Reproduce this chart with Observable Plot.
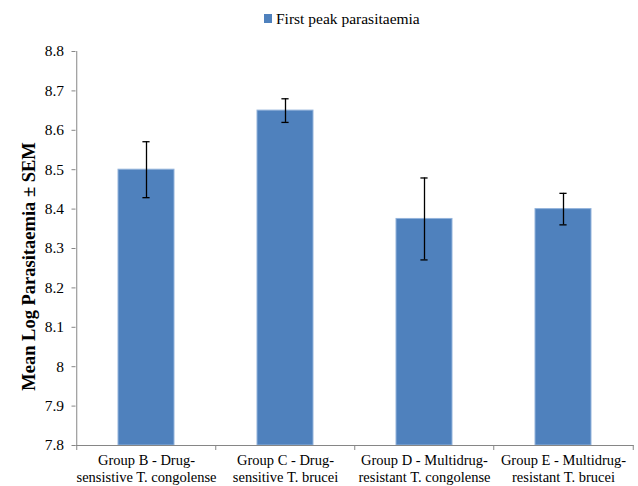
<!DOCTYPE html>
<html>
<head>
<meta charset="utf-8">
<script src="https://cdn.jsdelivr.net/npm/d3@7"></script>
<script src="https://cdn.jsdelivr.net/npm/@observablehq/plot@0.6"></script>
<style>
  html, body { margin: 0; padding: 0; background: #fff; }
  body { width: 638px; height: 486px; overflow: hidden; font-family: "Liberation Serif", "Times New Roman", serif; }
  #legend { height: 37px; display: flex; align-items: center; padding-left: 264px; font-size: 15.5px; color: #000; box-sizing: border-box; }
  #legend .sw { width: 8px; height: 9px; background: #4F81BD; margin-right: 4px; }
  svg { display: block; }
</style>
</head>
<body>
<div id="legend"><span class="sw"></span><span>First peak parasitaemia</span></div>
<div id="chart"></div>
<script>
const categories = [
  "Group B - Drug-\nsensistive T. congolense",
  "Group C - Drug-\nsensitive T. brucei",
  "Group D - Multidrug-\nresistant T. congolense",
  "Group E - Multidrug-\nresistant T. brucei"
];
const means = [8.50, 8.65, 8.375, 8.40];
const sems = [0.071, 0.030, 0.104, 0.040];
const seriesName = "First peak parasitaemia";
const yTicks = [7.8, 7.9, 8.0, 8.1, 8.2, 8.3, 8.4, 8.5, 8.6, 8.7, 8.8];
const yLabel = "Mean Log Parasitaemia ± SEM";

const data = categories.map((c, i) => ({group: c, value: means[i], sem: sems[i]}));
const yMin = yTicks[0], yMax = yTicks[yTicks.length - 1];

const FONT = "Liberation Serif";
const W = 638, H = 449, ML = 75.5, MR = 4.5, MT = 14, MB = 41;
const step = (W - ML - MR) / categories.length;
const bandwidth = step * 0.4;
const capHalf = 3.5;
const grey = "#868686";

const chart = Plot.plot({
  width: W, height: H,
  marginLeft: ML, marginRight: MR, marginTop: MT, marginBottom: MB,
  style: {fontFamily: FONT, fontSize: "15.5px", color: "#000", background: "#fff"},
  x: {domain: categories, paddingInner: 0.6, paddingOuter: 0.3, label: null},
  y: {domain: [yMin, yMax], label: null},
  marks: [
    Plot.barY(data, {x: "group", y1: () => yMin, y2: "value", fill: "#4F81BD", stroke: "#93B3DB", strokeWidth: 1}),
    Plot.ruleX(data, {x: "group", y1: d => d.value - d.sem, y2: d => d.value + d.sem, stroke: "#000", strokeWidth: 1.3}),
    Plot.tickY(data, {x: "group", y: d => d.value + d.sem, stroke: "#000", strokeWidth: 1.3, insetLeft: bandwidth / 2 - capHalf, insetRight: bandwidth / 2 - capHalf}),
    Plot.tickY(data, {x: "group", y: d => d.value - d.sem, stroke: "#000", strokeWidth: 1.3, insetLeft: bandwidth / 2 - capHalf, insetRight: bandwidth / 2 - capHalf}),
    // axis lines
    Plot.ruleY([yMin], {stroke: grey, strokeWidth: 1}),
    Plot.ruleX([categories[0]], {dx: -step / 2, stroke: grey, strokeWidth: 1}),
    // y axis
    Plot.axisY(yTicks, {tickSize: 4, tickPadding: 8, stroke: grey, fill: "#000", fontFamily: FONT, fontSize: 15.5, fontVariant: "normal", tickFormat: d => String(+d.toFixed(1)), label: null}),
    // x axis ticks at band boundaries
    Plot.axisX(categories, {tickSize: 5, dx: -step / 2, stroke: grey, tickFormat: () => "", label: null}),
    Plot.axisX([categories[categories.length - 1]], {tickSize: 5, dx: step / 2, stroke: grey, tickFormat: () => "", label: null}),
    // x labels
    Plot.axisX(categories, {tickSize: 0, tickPadding: 8, fill: "#000", fontFamily: FONT, fontSize: 14.5, fontVariant: "normal", lineHeight: 1.15, label: null}),
    // y title
    Plot.text([yLabel], {frameAnchor: "left", textAnchor: "middle", dx: -47, dy: 18, rotate: -90, fontFamily: FONT, fontWeight: "bold", fontSize: 18.5, fill: "#000"})
  ]
});
document.getElementById("chart").appendChild(chart);
</script>
</body>
</html>
